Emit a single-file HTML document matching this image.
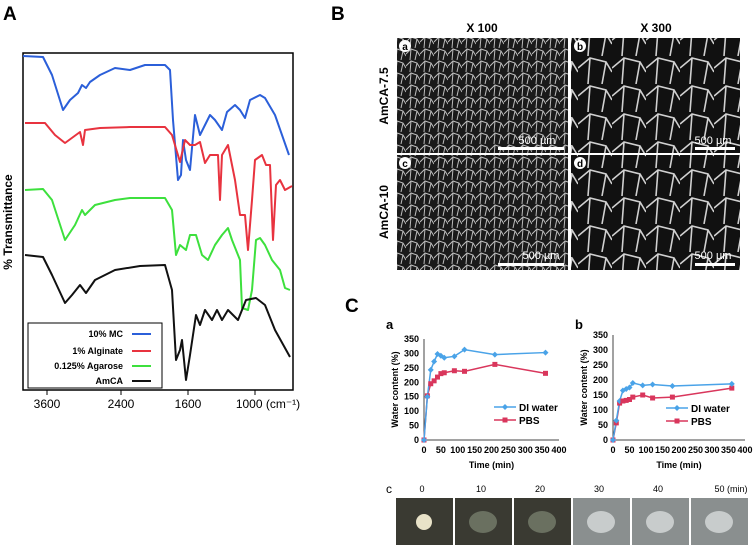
<!DOCTYPE html>
<html><head><meta charset="utf-8"><style>
body{margin:0;background:#fff;}
svg{display:block;font-family:"Liberation Sans",Arial,sans-serif;}
</style></head><body>
<svg width="756" height="559" viewBox="0 0 756 559" xmlns="http://www.w3.org/2000/svg">
<defs>
<pattern id="sem1" width="14" height="12" patternUnits="userSpaceOnUse"><rect width="14" height="12" fill="#1a1a1a"/><path d="M0 6 L5 1 L11 3 L14 8 M5 1 L4 12 M11 3 L9 12" stroke="#bdbdbd" stroke-width="1" fill="none"/></pattern>
<pattern id="sem2" width="34" height="28" patternUnits="userSpaceOnUse"><rect width="34" height="28" fill="#111"/><path d="M0 12 L12 2 L28 6 L34 16 M12 2 L10 28 M28 6 L24 28" stroke="#d0d0d0" stroke-width="1.6" fill="none"/></pattern>
</defs>

<!-- Panel A -->
<text x="3" y="20" font-size="19" font-weight="bold">A</text>
<rect x="23" y="53" width="270" height="337" fill="none" stroke="#000" stroke-width="1.5"/>
<text transform="translate(12,222) rotate(-90)" text-anchor="middle" font-size="12" font-weight="bold">% Transmittance</text>
<g font-size="12" text-anchor="middle">
<line x1="47" y1="390" x2="47" y2="395" stroke="#000"/><text x="47" y="408">3600</text>
<line x1="121" y1="390" x2="121" y2="395" stroke="#000"/><text x="121" y="408">2400</text>
<line x1="188" y1="390" x2="188" y2="395" stroke="#000"/><text x="188" y="408">1600</text>
<line x1="255" y1="390" x2="255" y2="395" stroke="#000"/><text x="268" y="408">1000 (cm⁻¹)</text>
</g>
<g fill="none" stroke-width="2" stroke-linejoin="round">
<polyline stroke="#2b5fd9" points="23,56 43,57 52,75 63,110 70,100 78,93 82,85 86,88 90,82 100,75 115,68 130,70 145,65 165,65 170,70 173,120 178,180 181,175 183,140 186,160 190,170 195,115 200,135 205,125 210,115 215,120 222,130 227,112 235,105 240,110 245,118 250,100 260,95 265,98 275,115 289,155"/>
<polyline stroke="#e8333f" points="25,123 45,123 55,135 65,143 80,132 83,145 85,130 100,128 130,127 165,127 172,135 180,162 185,140 190,145 195,145 200,142 205,163 210,155 218,155 220,200 222,155 228,145 235,180 240,215 245,215 248,250 252,200 255,160 262,155 266,165 270,165 273,240 276,185 280,180 285,190 292,186"/>
<polyline stroke="#3de03d" points="25,190 43,189 52,200 65,240 75,225 82,210 85,215 95,205 115,200 130,198 165,198 172,210 176,255 180,245 186,250 190,235 196,235 202,255 208,260 215,245 222,235 228,228 232,240 240,260 242,308 248,310 252,290 256,240 260,238 265,245 272,260 280,270 285,288 290,290"/>
<polyline stroke="#111" points="25,255 43,257 52,275 65,303 72,295 80,285 86,293 95,280 115,270 140,266 165,265 172,290 176,360 180,350 182,340 186,380 190,355 196,315 200,325 205,310 212,320 217,310 222,320 228,310 233,315 238,320 246,300 256,298 265,305 275,330 290,357"/>
</g>
<g font-size="9" font-weight="bold" text-anchor="end">
<rect x="28" y="323" width="134" height="65" fill="#fff" stroke="#000"/>
<text x="123" y="337">10% MC</text><line x1="132" y1="334" x2="151" y2="334" stroke="#2b5fd9" stroke-width="2"/>
<text x="123" y="354">1% Alginate</text><line x1="132" y1="351" x2="151" y2="351" stroke="#e8333f" stroke-width="2"/>
<text x="123" y="369">0.125% Agarose</text><line x1="132" y1="366" x2="151" y2="366" stroke="#3de03d" stroke-width="2"/>
<text x="123" y="384">AmCA</text><line x1="132" y1="381" x2="151" y2="381" stroke="#111" stroke-width="2"/>
</g>

<!-- Panel B -->
<text x="331" y="20" font-size="19" font-weight="bold">B</text>
<text x="482" y="32" font-size="12" font-weight="bold" text-anchor="middle">X 100</text>
<text x="656" y="32" font-size="12" font-weight="bold" text-anchor="middle">X 300</text>
<text transform="translate(388,96) rotate(-90)" font-size="12" font-weight="bold" text-anchor="middle">AmCA-7.5</text>
<text transform="translate(388,212) rotate(-90)" font-size="12" font-weight="bold" text-anchor="middle">AmCA-10</text>
<g><rect x="397" y="38" width="171" height="115" fill="url(#sem1)"/><circle cx="405" cy="46" r="6" fill="#fff"/><text x="405" y="50" font-size="10" font-weight="bold" text-anchor="middle">a</text><text x="537" y="144" font-size="11" fill="#fff" text-anchor="middle">500 µm</text><rect x="498" y="147" width="66" height="3" fill="#fff"/></g>
<g><rect x="571" y="38" width="169" height="115" fill="url(#sem2)"/><circle cx="580" cy="46" r="6" fill="#fff"/><text x="580" y="50" font-size="10" font-weight="bold" text-anchor="middle">b</text><text x="713" y="144" font-size="11" fill="#fff" text-anchor="middle">500 µm</text><rect x="695" y="147" width="40" height="3" fill="#fff"/></g>
<g><rect x="397" y="155" width="171" height="115" fill="url(#sem1)"/><circle cx="405" cy="163" r="6" fill="#fff"/><text x="405" y="167" font-size="10" font-weight="bold" text-anchor="middle">c</text><text x="541" y="259" font-size="11" fill="#fff" text-anchor="middle">500 µm</text><rect x="498" y="263" width="66" height="3" fill="#fff"/></g>
<g><rect x="571" y="155" width="169" height="115" fill="url(#sem2)"/><circle cx="580" cy="163" r="6" fill="#fff"/><text x="580" y="167" font-size="10" font-weight="bold" text-anchor="middle">d</text><text x="713" y="259" font-size="11" fill="#fff" text-anchor="middle">500 µm</text><rect x="695" y="263" width="40" height="3" fill="#fff"/></g>

<!-- Panel C -->
<text x="345" y="312" font-size="19" font-weight="bold">C</text>
<text x="386" y="329" font-size="13" font-weight="bold">a</text>
<text x="575" y="329" font-size="13" font-weight="bold">b</text>
<g id="chartA"></g><g id="chartB"></g>
<text x="386" y="493" font-size="12">c</text>
<g id="photos"></g>
</svg>
<script>
const timesA=[0,10,20,30,40,50,60,90,120,210,360];
const diA=[0,150,243,272,298,292,285,290,313,296,303];
const pbsA=[0,153,195,205,218,230,233,240,238,262,231];
const timesB=[0,10,20,30,40,50,60,90,120,180,360];
const diB=[0,65,130,165,170,175,190,182,185,180,187];
const pbsB=[0,57,123,130,132,135,143,150,140,143,173];
const xTicks=[0,50,100,150,200,250,300,350,400];
const yTicks=[0,50,100,150,200,250,300,350];
const photoLabels=["0","10","20","30","40","50 (min)"];
const NS="http://www.w3.org/2000/svg";
function mk(tag,attrs,parent){const e=document.createElementNS(NS,tag);for(const k in attrs)e.setAttribute(k,attrs[k]);parent.appendChild(e);return e;}
function chart(g,x0,x1,y0,y1,times,di,pbs,leg){
  const sx=v=>x0+(x1-x0)*v/400, sy=v=>y0-(y0-y1)*v/350;
  mk('line',{x1:x0,y1:y0,x2:x1,y2:y0,stroke:'#444'},g);
  mk('line',{x1:x0,y1:y0,x2:x0,y2:y1,stroke:'#444'},g);
  xTicks.forEach(t=>{const tx=mk('text',{x:sx(t),y:y0+13,'font-size':9,'font-weight':'bold','text-anchor':'middle'},g);tx.textContent=t;});
  yTicks.forEach(t=>{const tx=mk('text',{x:x0-5,y:sy(t)+3,'font-size':9,'font-weight':'bold','text-anchor':'end'},g);tx.textContent=t;});
  const yt=mk('text',{transform:`translate(${x0-26},${(y0+y1)/2}) rotate(-90)`,'font-size':9,'font-weight':'bold','text-anchor':'middle'},g);yt.textContent='Water content (%)';
  const xt=mk('text',{x:(x0+x1)/2,y:y0+28,'font-size':9,'font-weight':'bold','text-anchor':'middle'},g);xt.textContent='Time  (min)';
  const lp=mk('polyline',{points:times.map((t,i)=>sx(t)+','+sy(pbs[i])).join(' '),fill:'none',stroke:'#d9365c','stroke-width':1.5},g);
  
  
  const ld=mk('polyline',{points:times.map((t,i)=>sx(t)+','+sy(di[i])).join(' '),fill:'none',stroke:'#4aa3e8','stroke-width':1.5},g);
  
  
  times.forEach((t,i)=>{
    const m=mk('rect',{x:sx(t)-2.5,y:sy(pbs[i])-2.5,width:5,height:5,fill:'#d9365c'},g);
    
    
    const d=mk('path',{d:`M${sx(t)} ${sy(di[i])-3} l3 3 l-3 3 l-3 -3z`,fill:'#4aa3e8'},g);
    
    
  });
  mk('line',{x1:leg[0],y1:leg[1],x2:leg[0]+22,y2:leg[1],stroke:'#4aa3e8','stroke-width':1.5},g);
  mk('path',{d:`M${leg[0]+11} ${leg[1]-3} l3 3 l-3 3 l-3 -3z`,fill:'#4aa3e8'},g);
  const t1=mk('text',{x:leg[0]+25,y:leg[1]+4,'font-size':10,'font-weight':'bold'},g);t1.textContent='DI water';
  mk('line',{x1:leg[0],y1:leg[1]+13,x2:leg[0]+22,y2:leg[1]+13,stroke:'#d9365c','stroke-width':1.5},g);
  mk('rect',{x:leg[0]+8.5,y:leg[1]+10.5,width:5,height:5,fill:'#d9365c'},g);
  const t2=mk('text',{x:leg[0]+25,y:leg[1]+17,'font-size':10,'font-weight':'bold'},g);t2.textContent='PBS';
}
const gA=document.getElementById('chartA');


chart(gA,424,559,440,339,timesA,diA,pbsA,[494,407]);
const gB=document.getElementById('chartB');


chart(gB,613,745,440,335,timesB,diB,pbsB,[666,408]);
const gp=document.getElementById('photos');
photoLabels.forEach((l,i)=>{
  const x=396+i*59;
  const t=mk('text',{x:x+26+(i==5?14:0),y:492,'font-size':9,'text-anchor':'middle'},gp);t.textContent=l;
  
  
  const r=mk('rect',{x:x,y:498,width:57,height:47,fill:i<3?'#3a3a32':'#8a8f8f'},gp);
  
  
  mk('ellipse',{cx:x+28,cy:522,rx:i==0?8:14,ry:i==0?8:11,fill:i==0?'#e8e2c8':(i<3?'#6a7060':'#c8cccc')},gp);
});
</script>
</body></html>
